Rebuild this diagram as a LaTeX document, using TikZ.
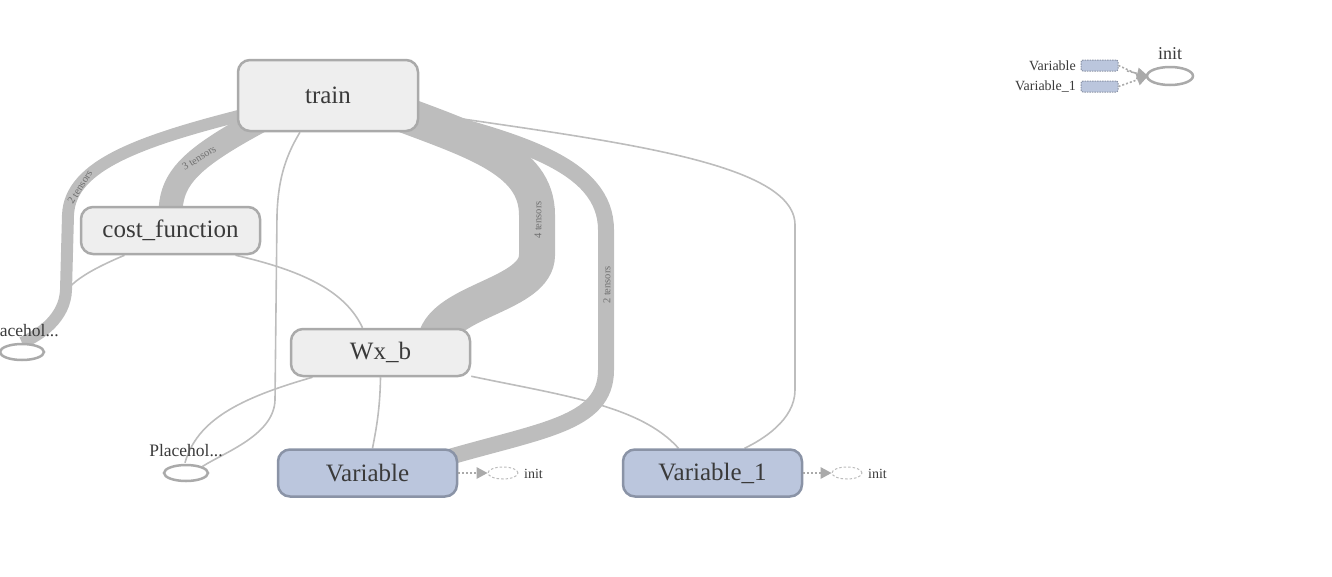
\documentclass[tikz,border=0pt]{standalone}
\usepackage{fontspec}
\setmainfont{Liberation Serif}
\usetikzlibrary{shapes.geometric,arrows.meta,backgrounds}
\definecolor{nodefill}{HTML}{EEEEEE}
\definecolor{nodeline}{HTML}{AAAAAA}
\definecolor{varfill}{HTML}{BBC6DD}
\definecolor{varline}{HTML}{8A93A6}
\definecolor{edgecol}{HTML}{BDBDBD}
\definecolor{txt}{HTML}{3A3A3A}
\definecolor{lbl}{HTML}{707070}
\begin{document}
\begin{tikzpicture}[x=1pt,y=-1pt,
  opbox/.style={draw=nodeline, fill=nodefill, line width=2.5pt, rounded corners=12pt,
    inner sep=0pt, minimum width=179pt, minimum height=47pt, text=txt,
    font=\fontsize{25}{30}\selectfont},
  varbox/.style={opbox, draw=varline, fill=varfill},
  phell/.style={draw=nodeline, fill=white, ellipse, line width=2.5pt, inner sep=0pt,
    minimum width=44pt, minimum height=16pt},
  smalltxt/.style={text=txt, inner sep=0pt, font=\fontsize{17.5}{20}\selectfont},
  tinytxt/.style={text=txt, inner sep=0pt, font=\fontsize{14}{16}\selectfont},
  thin edge/.style={draw=edgecol, line width=1.6pt},
  band/.style={draw=edgecol, line cap=butt},
  bandlbl/.style={text=lbl, inner sep=0pt, font=\fontsize{10.5}{12}\selectfont},
  dotarrow/.style={draw=nodeline, line width=1.6pt, dash pattern=on 2pt off 2pt,
    -{Triangle[length=11pt,width=12pt,fill=nodeline,line width=0pt]}},
  initell/.style={draw=nodeline!80, ellipse, dashed, dash pattern=on 2.5pt off 2pt,
    line width=1pt, inner sep=0pt, minimum width=30pt, minimum height=12pt},
  minibox/.style={draw=varline, fill=varfill, rounded corners=2pt, dash pattern=on 1.5pt off 1pt,
    line width=1pt, inner sep=0pt, minimum width=37pt, minimum height=11pt}
]
\useasboundingbox (0,0) rectangle (1332,576);

% main nodes
\node[opbox, minimum width=180pt, minimum height=71pt] (train) at (328,95.5) {train};
\node[opbox] (cost) at (170.5,230.5) {cost\_function};
\node[opbox] (wxb) at (380.5,352.5) {Wx\_b};
\node[varbox] (var) at (367.5,473) {Variable};
\node[varbox] (var1) at (712.5,473) {Variable\_1};
\node[phell] (ph1) at (22,352) {};
\node[smalltxt, anchor=base] (ph1l) at (22,336) {Placehol...};
\node[phell] (ph2) at (186,473) {};
\node[smalltxt, anchor=base] (ph2l) at (186,456) {Placehol...};

% init markers next to variables
\node[initell] (vinit) at (503,473) {};
\node[tinytxt, anchor=west] (vinitl) at (524,474) {init};
\node[initell] (v1init) at (847,473) {};
\node[tinytxt, anchor=west] (v1initl) at (868,474) {init};
\draw[dotarrow] (var.east) -- (vinit.west);
\draw[dotarrow] (var1.east) -- (v1init.west);

% top-right init group
\node[phell, minimum width=46pt, minimum height=18pt] (init) at (1170,76) {};
\node[text=txt, inner sep=0pt, font=\fontsize{18}{20}\selectfont, anchor=base] (initl) at (1170,59) {init};
\node[minibox] (m1) at (1099.5,65.5) {};
\node[minibox] (m2) at (1099.5,86.5) {};
\node[tinytxt, anchor=east] (m1l) at (1076,66) {Variable};
\node[tinytxt, anchor=east] (m2l) at (1076,87) {Variable\_1};
\coordinate (tip) at (1148,76);
\draw[dotarrow, -] (m1.east) -- (1137,74);
\draw[dotarrow] (m2.east) -- (tip);
\draw[dotarrow] (1127,71) -- (tip);

\begin{scope}[on background layer]
  % thin edges
  \draw[thin edge] ([shift={(-28,0)}]train.south) .. controls (283,160) and (278,185) .. (277,215)
     -- (275,400) .. controls (274,435) and (225,452) .. (ph2.north east);
  \draw[thin edge] ([shift={(0,17)}]train.east) .. controls (600,140) and (795,160) .. (795,225)
     -- (795,390) .. controls (795,420) and (762,440) .. ([shift={(32,0)}]var1.north);
  \draw[thin edge] ([shift={(-46,0)}]cost.south) .. controls (85,272) and (66,285) .. (62,300)
     .. controls (55,325) and (40,338) .. (ph1.north);
  \draw[thin edge] ([shift={(65,0)}]cost.south) .. controls (300,270) and (345,290) .. ([shift={(-18,0)}]wxb.north);
  \draw[thin edge] ([shift={(-68,0)}]wxb.south) .. controls (240,398) and (197,420) .. ([shift={(-1,-1)}]ph2.north);
  \draw[thin edge] (wxb.south) .. controls (380,410) and (376,430) .. ([shift={(5,0)}]var.north);
  \draw[thin edge] ([shift={(0,-1)}]wxb.south east) .. controls (560,395) and (640,405) .. ([shift={(-34,0)}]var1.north);

  % thick bands (ends hidden under the nodes)
  \draw[band, line width=12pt] ([shift={(25,-22)}]train.south west) .. controls (140,140) and (70,165) .. (68,215)
     -- (66,290) .. controls (65,318) and (40,335) .. (ph1.north);
  \draw[band, line width=24pt] ([shift={(30,-15)}]train.south west) .. controls (190,158) and (170,178) .. ([shift={(0,10)}]cost.north);
  \draw[band, line width=36pt] ([shift={(-35,-25)}]train.south east) .. controls (470,140) and (537,158) .. (537,215)
     -- (537,255) .. controls (537,295) and (445,300) .. ([shift={(55,12)}]wxb.north);
  \draw[band, line width=16pt] ([shift={(-20,15)}]train.east) .. controls (520,140) and (606,165) .. (606,230)
     -- (606,370) .. controls (606,425) and (540,430) .. ([shift={(-20,12)}]var.north east);
\end{scope}

% band labels
\node[bandlbl, rotate=58] (l1) at (80,187) {2 tensors};
\node[bandlbl, rotate=32] (l2) at (199,158) {3 tensors};
\node[bandlbl, rotate=90] (l3) at (538,220) {4 tensors};
\node[bandlbl, rotate=90] (l4) at (607,285) {2 tensors};
\end{tikzpicture}
\end{document}
